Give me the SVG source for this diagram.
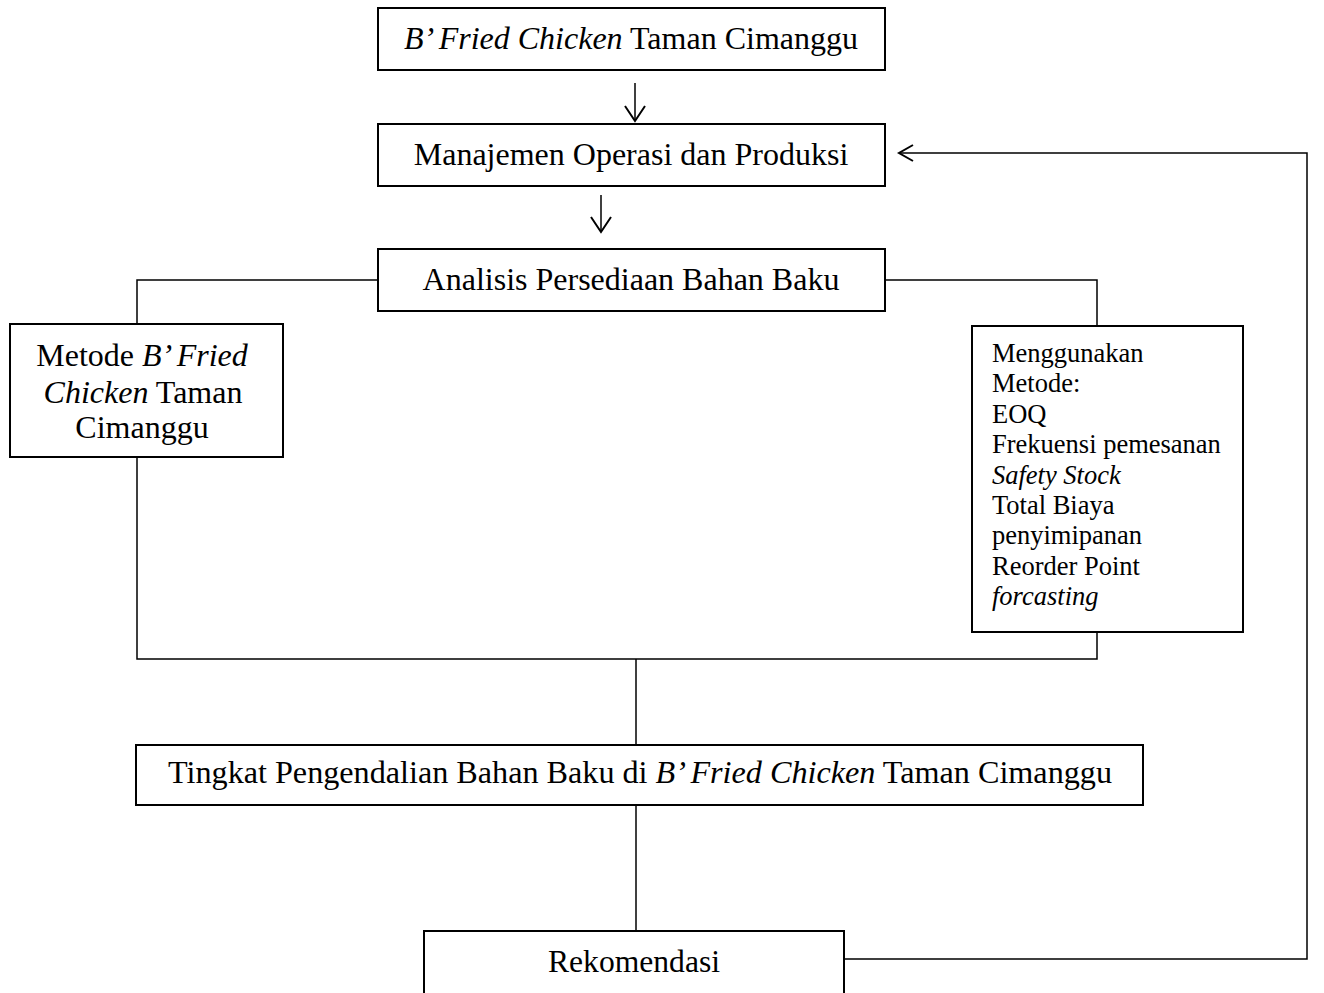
<svg xmlns="http://www.w3.org/2000/svg" width="1324" height="993" viewBox="0 0 1324 993">
<style>
.box{fill:#fff;stroke:#000;stroke-width:2}
.t{font-family:"Liberation Serif","Times New Roman",serif;font-size:32px;fill:#000}
.s{font-family:"Liberation Serif","Times New Roman",serif;font-size:26.5px;fill:#000}
.c{fill:none;stroke:#000;stroke-width:1.5}
.a{fill:none;stroke:#000;stroke-width:2}
</style>
<rect width="1324" height="993" fill="#fff"/>
<g id="connectors">
<line class="c" x1="635" y1="83" x2="635" y2="121"/>
<polyline class="a" points="625,106 635,121 645,106"/>
<line class="c" x1="601" y1="195" x2="601" y2="232"/>
<polyline class="a" points="591,217 601,232 611,217"/>
<polyline class="c" points="378,280 137,280 137,324"/>
<polyline class="c" points="885,280 1097,280 1097,326"/>
<polyline class="c" points="137,457 137,659 1097,659 1097,632"/>
<line class="c" x1="636" y1="659" x2="636" y2="745"/>
<line class="c" x1="636" y1="805" x2="636" y2="931"/>
<polyline class="c" points="844,959 1307,959 1307,153 899,153"/>
<polyline class="a" points="913,145 899,153 913,161"/>
</g>
<g id="n1">
<rect class="box" x="378" y="8" width="507" height="62"/>
<text class="t" x="631" y="49" text-anchor="middle"><tspan font-style="italic">B’ Fried Chicken</tspan> Taman Cimanggu</text>
</g>
<g id="n2">
<rect class="box" x="378" y="124" width="507" height="62"/>
<text class="t" x="631" y="165" text-anchor="middle">Manajemen Operasi dan Produksi</text>
</g>
<g id="n3">
<rect class="box" x="378" y="249" width="507" height="62"/>
<text class="t" x="631" y="290" text-anchor="middle">Analisis Persediaan Bahan Baku</text>
</g>
<g id="n4">
<rect class="box" x="10" y="324" width="273" height="133"/>
<text class="t" text-anchor="middle">
<tspan x="146" y="366">Metode <tspan font-style="italic">B’ Fried</tspan></tspan>
<tspan x="147" y="403"><tspan font-style="italic">Chicken</tspan> Taman</tspan>
<tspan x="142" y="438">Cimanggu</tspan>
</text>
</g>
<g id="n5">
<rect class="box" x="972" y="326" width="271" height="306"/>
<text class="s">
<tspan x="992" y="362">Menggunakan</tspan>
<tspan x="992" y="392">Metode:</tspan>
<tspan x="992" y="423">EOQ</tspan>
<tspan x="992" y="453">Frekuensi pemesanan</tspan>
<tspan x="992" y="484" font-style="italic">Safety Stock</tspan>
<tspan x="992" y="514">Total Biaya</tspan>
<tspan x="992" y="544">penyimipanan</tspan>
<tspan x="992" y="575">Reorder Point</tspan>
<tspan x="992" y="605" font-style="italic">forcasting</tspan>
</text>
</g>
<g id="n6">
<rect class="box" x="136" y="745" width="1007" height="60"/>
<text class="t" x="168" y="783" textLength="944" lengthAdjust="spacingAndGlyphs">Tingkat Pengendalian Bahan Baku di <tspan font-style="italic">B’ Fried Chicken</tspan> Taman Cimanggu</text>
</g>
<g id="n7">
<rect class="box" x="424" y="931" width="420" height="80"/>
<text class="t" x="548" y="972" textLength="172" lengthAdjust="spacingAndGlyphs">Rekomendasi</text>
</g>
</svg>
